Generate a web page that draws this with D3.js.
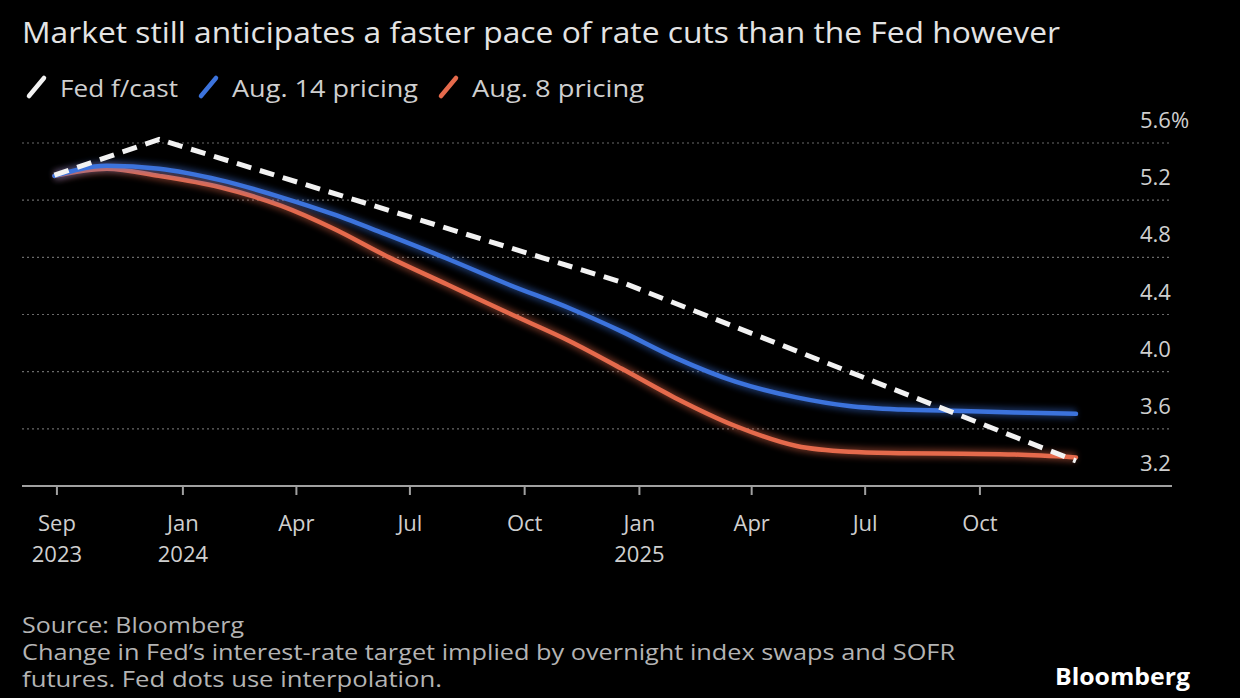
<!DOCTYPE html>
<html>
<head>
<meta charset="utf-8">
<script src="https://cdn.jsdelivr.net/npm/d3@7"></script>
<style>
  html, body { margin: 0; padding: 0; background: #000; }
  svg { display: block; }
</style>
</head>
<body>
<svg id="chart" width="1240" height="698"></svg>
<script>
// ─── Data ────────────────────────────────────────────────────────────────────
const fedDates  = ['2023-09-20', '2023-12-13', '2024-12-18', '2025-12-17'];
const fedValues = [5.375, 5.625, 4.625, 3.375];

const marketDates = [
  '2023-09-20', '2023-11-01', '2023-12-13', '2024-01-31', '2024-03-20',
  '2024-05-01', '2024-06-12', '2024-07-31', '2024-09-18', '2024-11-07',
  '2024-12-18', '2025-01-29', '2025-03-19', '2025-05-07', '2025-06-18',
  '2025-07-30', '2025-09-17', '2025-10-29', '2025-12-17'
];
const aug14Values = [
  5.37, 5.44, 5.42, 5.34, 5.22, 5.10, 4.96, 4.79, 4.61, 4.44,
  4.28, 4.10, 3.93, 3.82, 3.76, 3.735, 3.725, 3.715, 3.705
];
const aug8Values = [
  5.37, 5.42, 5.37, 5.29, 5.16, 5.00, 4.81, 4.61, 4.41, 4.21,
  4.02, 3.82, 3.62, 3.48, 3.44, 3.43, 3.425, 3.42, 3.40
];

const xTickDates  = ['2023-09-22', '2024-01-01', '2024-04-01', '2024-07-01', '2024-10-01',
                     '2025-01-01', '2025-04-01', '2025-07-01', '2025-10-01'];
const xTickLabels = [['Sep', '2023'], ['Jan', '2024'], ['Apr'], ['Jul'], ['Oct'],
                     ['Jan', '2025'], ['Apr'], ['Jul'], ['Oct']];
const yTicks      = [3.2, 3.6, 4.0, 4.4, 4.8, 5.2, 5.6];
const yTickLabels = ['3.2', '3.6', '4.0', '4.4', '4.8', '5.2', '5.6%'];

const seriesNames = ['Fed f/cast', 'Aug. 14 pricing', 'Aug. 8 pricing'];

const title = 'Market still anticipates a faster pace of rate cuts than the Fed however';
const footnotes = [
  'Source: Bloomberg',
  'Change in Fed\u2019s interest-rate target implied by overnight index swaps and SOFR',
  'futures. Fed dots use interpolation.'
];

// ─── Style ───────────────────────────────────────────────────────────────────
const C = {
  bg:      '#000000',
  title:   '#e4e4e4',
  text:    '#cfcfcf',
  foot:    '#b4b4b4',
  grid:    '#6a6a6a',
  axis:    '#a0a0a0',
  fed:     '#f2f2f2',
  aug14:   '#3c73dc',
  aug8:    '#e56a4c',
  font:    '"Open Sans", "Noto Sans", sans-serif',
};

const parse = d3.timeParse('%Y-%m-%d');
const svg = d3.select('#chart');
svg.append('rect').attr('width', 1240).attr('height', 698).attr('fill', C.bg);

// squeeze text to a measured width (the source uses a narrower face)
function fit(sel, w) {
  sel.attr('textLength', w).attr('lengthAdjust', 'spacingAndGlyphs');
  return sel;
}

const x = d3.scaleTime()
  .domain([parse('2023-08-25'), parse('2026-03-04')])
  .range([22, 1172]);
const y = d3.scaleLinear().domain([3.2, 5.6]).range([486, 143]);

// Title
fit(svg.append('text').attr('x', 22).attr('y', 43)
  .attr('fill', C.title).attr('font-size', 30).attr('font-family', C.font)
  .text(title), 1038);

// Legend
const legendColors = [C.fed, C.aug14, C.aug8];
const legendX = [26, 198, 438];
const legendW = [118, 186, 172];
seriesNames.forEach((name, i) => {
  const g = svg.append('g').attr('transform', `translate(${legendX[i]},97)`);
  g.append('line').attr('x1', 3).attr('y1', -1).attr('x2', 18).attr('y2', -19)
    .attr('stroke', legendColors[i]).attr('stroke-width', 4.5).attr('stroke-linecap', 'round');
  fit(g.append('text').attr('x', 34).attr('y', 0)
    .attr('fill', C.text).attr('font-size', 24).attr('font-family', C.font)
    .text(name), legendW[i]);
});

// Gridlines (dotted)
svg.selectAll('line.grid').data(yTicks.slice(1)).enter().append('line')
  .attr('class', 'grid')
  .attr('x1', 22).attr('x2', 1172)
  .attr('y1', d => y(d)).attr('y2', d => y(d))
  .attr('stroke', C.grid).attr('stroke-width', 1.2)
  .attr('stroke-dasharray', '2,3');

// Y labels sit above their gridline, left-aligned so the % hangs out
svg.selectAll('text.ytick').data(yTicks).enter().append('text')
  .attr('class', 'ytick')
  .attr('x', 1140).attr('y', d => y(d) - 15)
  .attr('fill', C.text)
  .attr('font-size', 22).attr('font-family', C.font)
  .text((d, i) => yTickLabels[i]);

// X axis
svg.append('line').attr('x1', 22).attr('x2', 1172).attr('y1', 486).attr('y2', 486)
  .attr('stroke', C.axis).attr('stroke-width', 2);
xTickDates.forEach((ds, i) => {
  const tx = x(parse(ds));
  svg.append('line').attr('x1', tx).attr('x2', tx).attr('y1', 486).attr('y2', 495)
    .attr('stroke', C.axis).attr('stroke-width', 2);
  xTickLabels[i].forEach((lab, j) => {
    svg.append('text').attr('x', tx).attr('y', 531 + j * 31)
      .attr('text-anchor', 'middle').attr('fill', C.text)
      .attr('font-size', 22).attr('font-family', C.font)
      .text(lab);
  });
});

// Lines
const defs = svg.append('defs');
defs.append('filter').attr('id', 'glow').attr('x', '-5%').attr('y', '-20%')
  .attr('width', '110%').attr('height', '140%')
  .append('feGaussianBlur').attr('stdDeviation', 3);

const smooth = d3.line()
  .x(d => x(d[0])).y(d => y(d[1]))
  .curve(d3.curveMonotoneX);
const straight = d3.line().x(d => x(d[0])).y(d => y(d[1]));

const aug8Pts  = marketDates.map((d, i) => [parse(d), aug8Values[i]]);
const aug14Pts = marketDates.map((d, i) => [parse(d), aug14Values[i]]);
const fedPts   = fedDates.map((d, i) => [parse(d), fedValues[i]]);

[[aug8Pts, C.aug8], [aug14Pts, C.aug14]].forEach(([pts, col]) => {
  svg.append('path').attr('d', smooth(pts)).attr('fill', 'none')
    .attr('stroke', col).attr('stroke-width', 9).attr('opacity', 0.45)
    .attr('filter', 'url(#glow)');
  svg.append('path').attr('d', smooth(pts)).attr('fill', 'none')
    .attr('stroke', col).attr('stroke-width', 4.5).attr('stroke-linecap', 'round');
});

svg.append('path').attr('d', straight(fedPts)).attr('fill', 'none')
  .attr('stroke', C.fed).attr('stroke-width', 5)
  .attr('stroke-dasharray', '15,9');

// Footer
footnotes.forEach((t, i) => {
  const s = svg.append('text').attr('x', 22).attr('y', 633 + i * 27)
    .attr('fill', C.foot).attr('font-size', 21).attr('font-family', C.font)
    .text(t);
  if (i === 0) fit(s, 222);
  if (i === 1) fit(s, 933);
  if (i === 2) fit(s, 420);
});
fit(svg.append('text').attr('x', 1055).attr('y', 685)
  .attr('fill', '#ffffff').attr('font-size', 24).attr('font-weight', 700)
  .attr('font-family', C.font).text('Bloomberg'), 135);
</script>
</body>
</html>
